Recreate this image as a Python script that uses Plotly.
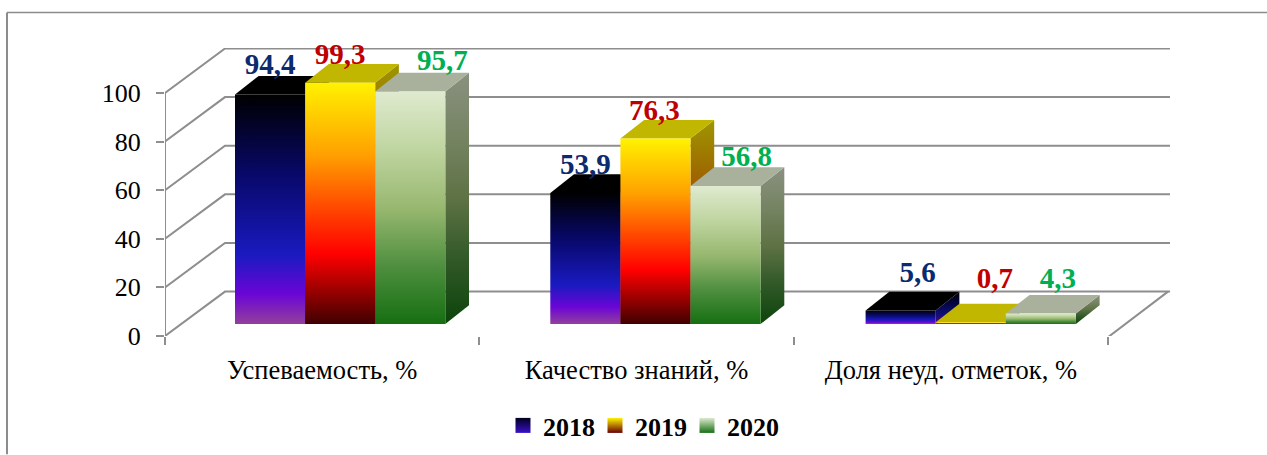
import plotly.graph_objects as go

categories = ["Успеваемость, %", "Качество знаний, %", "Доля неуд. отметок, %"]
years = ["2018", "2019", "2020"]
v2018 = [94.4, 53.9, 5.6]
v2019 = [99.3, 76.3, 0.7]
v2020 = [95.7, 56.8, 4.3]
y_ticks = [0, 20, 40, 60, 80, 100]

series = [v2018, v2019, v2020]
label_colors = ["#0b2a6f", "#c00000", "#00b050"]
# colour stops: position measured from the bottom of a bar
gradients = [
    [(0, "#93409b"), (0.13, "#6a05d6"), (0.30, "#1a1ac0"), (0.65, "#08086a"), (1, "#000000")],
    [(0, "#400000"), (0.29, "#ff0000"), (0.5, "#ff5000"), (0.7, "#ffa000"), (1, "#fff200")],
    [(0, "#166f12"), (0.25, "#4f8f3f"), (0.5, "#98b870"), (0.75, "#bfd5a0"), (1, "#dfeacf")],
]
legend_colors = [("#000020", "#3a10c8"), ("#fff200", "#6a0000"), ("#dfeacf", "#166f12")]

# layout in pixels, converted to axis units below
W, H = 1267, 455
L, R, T, B = 165, 1170, 48, 336.5
PX_X = 314.33            # pixels per category
PX_Y = 2.435             # pixels per value unit
x_range = [0, (R - L) / PX_X]
y_range = [0, (B - T) / PX_Y]
wall_dx, wall_dy = 60 / PX_X, 44.5 / PX_Y
bar_dx, bar_dy = 23.7 / PX_X, 18.7 / PX_Y
bar_start, bar_w = 70 / PX_X, 70.1 / PX_X
bar_pitch = 315.3 / PX_X
base_y = 12.0 / PX_Y
# hand-placed label offsets (px) relative to bar top centre
label_dx = [[0, 0, 32], [0, -1, 21], [17, 24, 17]]
label_dy = [[28, 26, 29], [26, 26, 27], [36, 42, 33]]

GRID = "#8e8e8e"


def shade(hex_color, k):
    r, g, b = (int(hex_color[i:i + 2], 16) for i in (1, 3, 5))
    return f"rgb({int(r * k)},{int(g * k)},{int(b * k)})"


def face(xs, ys, scale=None, color=None):
    t = dict(x=xs, y=ys, mode="lines", line=dict(width=0), fill="toself",
             hoverinfo="skip", showlegend=False, cliponaxis=False)
    if scale is not None:
        t["fillgradient"] = dict(type="vertical", colorscale=scale,
                                 start=min(ys), stop=max(ys))
        t["fillcolor"] = "rgba(0,0,0,0)"
    else:
        t["fillcolor"] = color
    return go.Scatter(**t)


fig = go.Figure()

# walls and floor
gx, gy = [], []
for v in y_ticks:
    gx += [0, wall_dx, x_range[1], None]
    gy += [v, v + wall_dy, v + wall_dy, None]
gx += [0, 0, None, 0, 3, 3 + wall_dx]
gy += [0, 100, None, -0.5, -0.5, wall_dy]
fig.add_trace(go.Scatter(x=gx, y=gy, mode="lines", line=dict(color=GRID, width=2),
                         hoverinfo="skip", showlegend=False, cliponaxis=False))

# bars
for c in range(len(categories)):
    for s, vals in enumerate(series):
        v = vals[c]
        x0 = bar_start + c * bar_pitch + s * bar_w
        x1 = x0 + bar_w
        y0, y1 = base_y, base_y + v
        grad = gradients[s]
        side = [[p, shade(col, 0.62)] for p, col in grad]
        top_col = shade(grad[-1][1], 0.76)
        fig.add_trace(face([x1, x1 + bar_dx, x1 + bar_dx, x1, x1],
                           [y0, y0 + bar_dy, y1 + bar_dy, y1, y0], scale=side))
        fig.add_trace(face([x0, x1, x1 + bar_dx, x0 + bar_dx, x0],
                           [y1, y1, y1 + bar_dy, y1 + bar_dy, y1], color=top_col))
        fig.add_trace(face([x0, x1, x1, x0, x0], [y0, y0, y1, y1, y0],
                           scale=[[p, col] for p, col in grad]))

# data labels
for s, vals in enumerate(series):
    xs, ys, texts = [], [], []
    for c, v in enumerate(vals):
        xs.append(bar_start + c * bar_pitch + (s + 0.5) * bar_w + label_dx[c][s] / PX_X)
        ys.append(base_y + v + label_dy[c][s] / PX_Y)
        texts.append(f"{v}".replace(".", ","))
    fig.add_trace(go.Scatter(x=xs, y=ys, text=texts, mode="text", textposition="middle center",
                             textfont=dict(family="Liberation Serif", size=29, color=label_colors[s], weight="bold"),
                             hoverinfo="skip", showlegend=False, cliponaxis=False))

# legend entries
for s, name in enumerate(years):
    fig.add_trace(go.Scatter(x=[None], y=[None], mode="markers", name=name,
                             marker=dict(symbol="square", size=15, color=legend_colors[s][0],
                                         gradient=dict(type="vertical", color=legend_colors[s][1]),
                                         line=dict(width=0))))

fig.update_layout(
    width=W, height=H, autosize=False,
    margin=dict(l=L, r=W - R, t=T, b=H - B, pad=0),
    paper_bgcolor="white", plot_bgcolor="white",
    font=dict(family="Liberation Serif", color="black", size=24),
    showlegend=True,
    legend=dict(orientation="h", x=503 / W, xref="container", xanchor="left", y=6 / H, yref="container",
                yanchor="bottom", font=dict(family="Liberation Serif", size=26, color="black", weight="bold"),
                entrywidth=47, entrywidthmode="pixels", bgcolor="rgba(0,0,0,0)",
                traceorder="normal"),
    xaxis=dict(range=x_range, tickvals=[0.5, 1.5, 2.5], ticktext=categories, ticks="", showgrid=False,
               zeroline=False, showline=False, tickangle=0, ticklabelstandoff=15,
               tickfont=dict(size=26.5),
               minor=dict(tickvals=[0, 1, 2, 3], ticks="outside", ticklen=8, tickwidth=2, tickcolor=GRID, showgrid=False)),
    yaxis=dict(range=y_range, tickvals=y_ticks, ticks="outside", ticklen=8, tickwidth=2, tickcolor=GRID,
               showgrid=False, zeroline=False, showline=False, ticklabelstandoff=10,
               tickfont=dict(size=26)),
)
# outer chart frame: left and top edges only
fig.add_shape(type="line", xref="x domain", yref="y domain",
              x0=-(L - 7) / (R - L), x1=(W - L) / (R - L), y0=(B - 12.5) / (B - T), y1=(B - 12.5) / (B - T),
              line=dict(color="#8c8c8c", width=1.5))
fig.add_shape(type="line", xref="x domain", yref="y domain",
              x0=-(L - 7) / (R - L), x1=-(L - 7) / (R - L), y0=(B - 12.5) / (B - T), y1=-(H - B) / (B - T),
              line=dict(color="#8c8c8c", width=2))

fig.write_html("out.html", config={"displayModeBar": False},
               post_script="document.body.style.margin='0';document.body.style.overflow='hidden';")
